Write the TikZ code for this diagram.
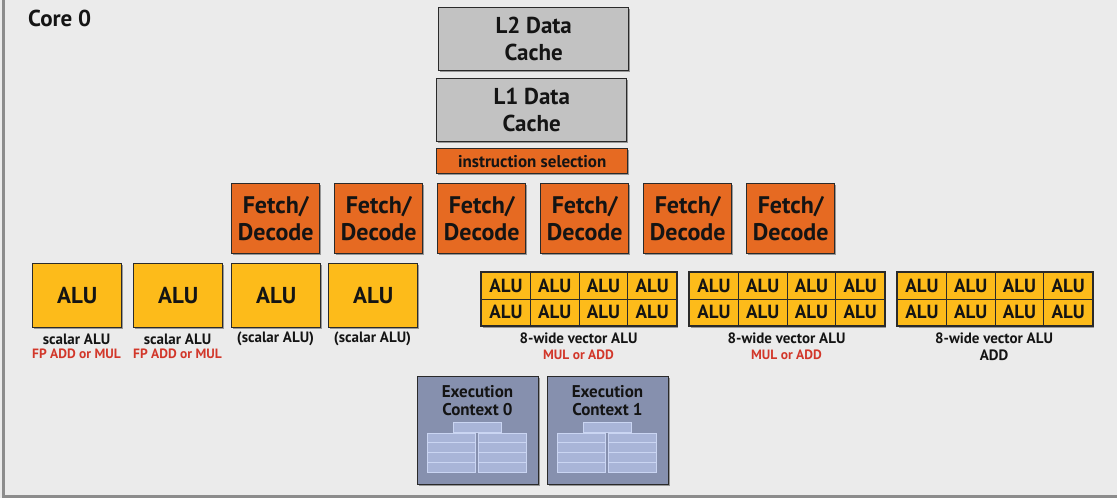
\documentclass[tikz,border=0pt]{standalone}
\usepackage{fontspec}
\setmainfont{PT Sans}
\usetikzlibrary{shadows}
\definecolor{bgc}{HTML}{EBEBEB}
\definecolor{cachec}{HTML}{C2C2C2}
\definecolor{orangec}{HTML}{E66A22}
\definecolor{aluc}{HTML}{FDBB1A}
\definecolor{ctxc}{HTML}{8690AE}
\definecolor{ctxin}{HTML}{A9B5D8}
\definecolor{ctxln}{HTML}{CAD5F2}
\definecolor{redc}{HTML}{D2372A}
\definecolor{txtc}{HTML}{141414}
\definecolor{edgec}{HTML}{2A2A2A}
\tikzset{
  shd/.style={drop shadow={shadow xshift=1.5pt,shadow yshift=-1.5pt,opacity=0.35,fill=black}},
  unitbox/.style={draw=edgec,line width=1.4pt,anchor=north west,inner sep=0pt,align=center,text=txtc,font=\bfseries,shd},
  cachebox/.style={unitbox,fill=cachec,minimum width=190pt,minimum height=63pt,font=\bfseries\fontsize{23}{27}\selectfont},
  fdbox/.style={unitbox,fill=orangec,minimum width=88pt,minimum height=70pt,font=\bfseries\fontsize{24}{27}\selectfont},
  salu/.style={unitbox,fill=aluc,minimum width=89pt,minimum height=64pt,font=\bfseries\fontsize{23}{25}\selectfont},
  valu/.style={draw=edgec,line width=1.1pt,fill=aluc,anchor=north west,inner sep=0pt,minimum width=48.75pt,minimum height=26.5pt,text=txtc,font=\bfseries\fontsize{19}{20}\selectfont},
  lbl/.style={font=\bfseries\fontsize{15}{17}\selectfont,text=txtc,inner sep=0pt},
  rlbl/.style={font=\bfseries\fontsize{13.5}{15}\selectfont,text=redc,inner sep=0pt},
  ctxbox/.style={unitbox,fill=ctxc,minimum width=121pt,minimum height=108pt},
  ctxtxt/.style={font=\bfseries\fontsize{17}{18}\selectfont,text=txtc,align=center,inner sep=0pt},
  cell/.style={fill=ctxin,draw=ctxln,line width=0.8pt}
}
\begin{document}
\begin{tikzpicture}[x=1pt,y=-1pt]
\fill[bgc] (0,0) rectangle (1117,498);
\useasboundingbox (0,0) rectangle (1117,498);
\draw[line width=3pt,color=black!45] (3,0) -- (3,496.5) -- (1117,496.5);
\node[font=\bfseries\fontsize{23}{26}\selectfont,text=txtc,anchor=west,inner sep=0pt] (core) at (28,18) {Core 0};
% caches
\node[cachebox] (l2) at (438,7) {L2 Data\\Cache};
\node[cachebox] (l1) at (436,78) {L1 Data\\Cache};
\node[unitbox,fill=orangec,minimum width=191pt,minimum height=25pt,font=\bfseries\fontsize{17}{19}\selectfont] (isel) at (436,148) {instruction selection};
% fetch/decode
\foreach \i/\x in {1/231,2/334,3/437,4/540,5/643,6/746}{
  \node[fdbox] (fd\i) at (\x,183) {Fetch/\\Decode};
}
% scalar ALUs
\foreach \i/\x in {1/32,2/133,3/231,4/328}{
  \node[salu] (s\i) at (\x,263) {ALU};
}
\node[lbl] (sl1) at (76.5,339) {scalar ALU};
\node[rlbl] (sr1) at (76.5,354) {FP ADD or MUL};
\node[lbl] (sl2) at (177.5,339) {scalar ALU};
\node[rlbl] (sr2) at (177.5,354) {FP ADD or MUL};
\node[lbl] (sl3) at (275.5,339) {(scalar ALU)};
\node[lbl] (sl4) at (372.5,339) {(scalar ALU)};
% vector ALUs
\foreach \g/\gx in {a/481,b/689,c/897}{
  \fill[black,opacity=0.35] (\gx+1.5,273.5) rectangle (\gx+196.5,327.5);
  \foreach \r in {0,1}{
    \foreach \c in {0,1,2,3}{
      \node[valu] (v\g\r\c) at (\gx+48.75*\c,272+26.5*\r) {ALU};
    }
  }
  \draw[edgec,line width=1.6pt] (v\g00.north west) rectangle (v\g13.south east);
}
\node[lbl] (vl1) at (578.5,338) {8-wide vector ALU};
\node[rlbl] (vr1) at (578.5,355) {MUL or ADD};
\node[lbl] (vl2) at (786.5,338) {8-wide vector ALU};
\node[rlbl] (vr2) at (786.5,355) {MUL or ADD};
\node[lbl] (vl3) at (994,338) {8-wide vector ALU};
\node[lbl] (vr3) at (994,355) {ADD};
% execution contexts
\foreach \i/\x in {0/417,1/547}{
  \node[ctxbox] (ec\i) at (\x,376) {};
  \node[ctxtxt] (et\i) at (\x+60.5,401) {Execution\\Context \i};
  \draw[cell] (\x+36,422) rectangle (\x+84,432);
  \foreach \tx in {10,61}{
    \foreach \r in {0,1,2,3}{
      \draw[cell] (\x+\tx,433+9.75*\r) rectangle (\x+\tx+48,433+9.75*\r+9.75);
    }
  }
}
\end{tikzpicture}
\end{document}
